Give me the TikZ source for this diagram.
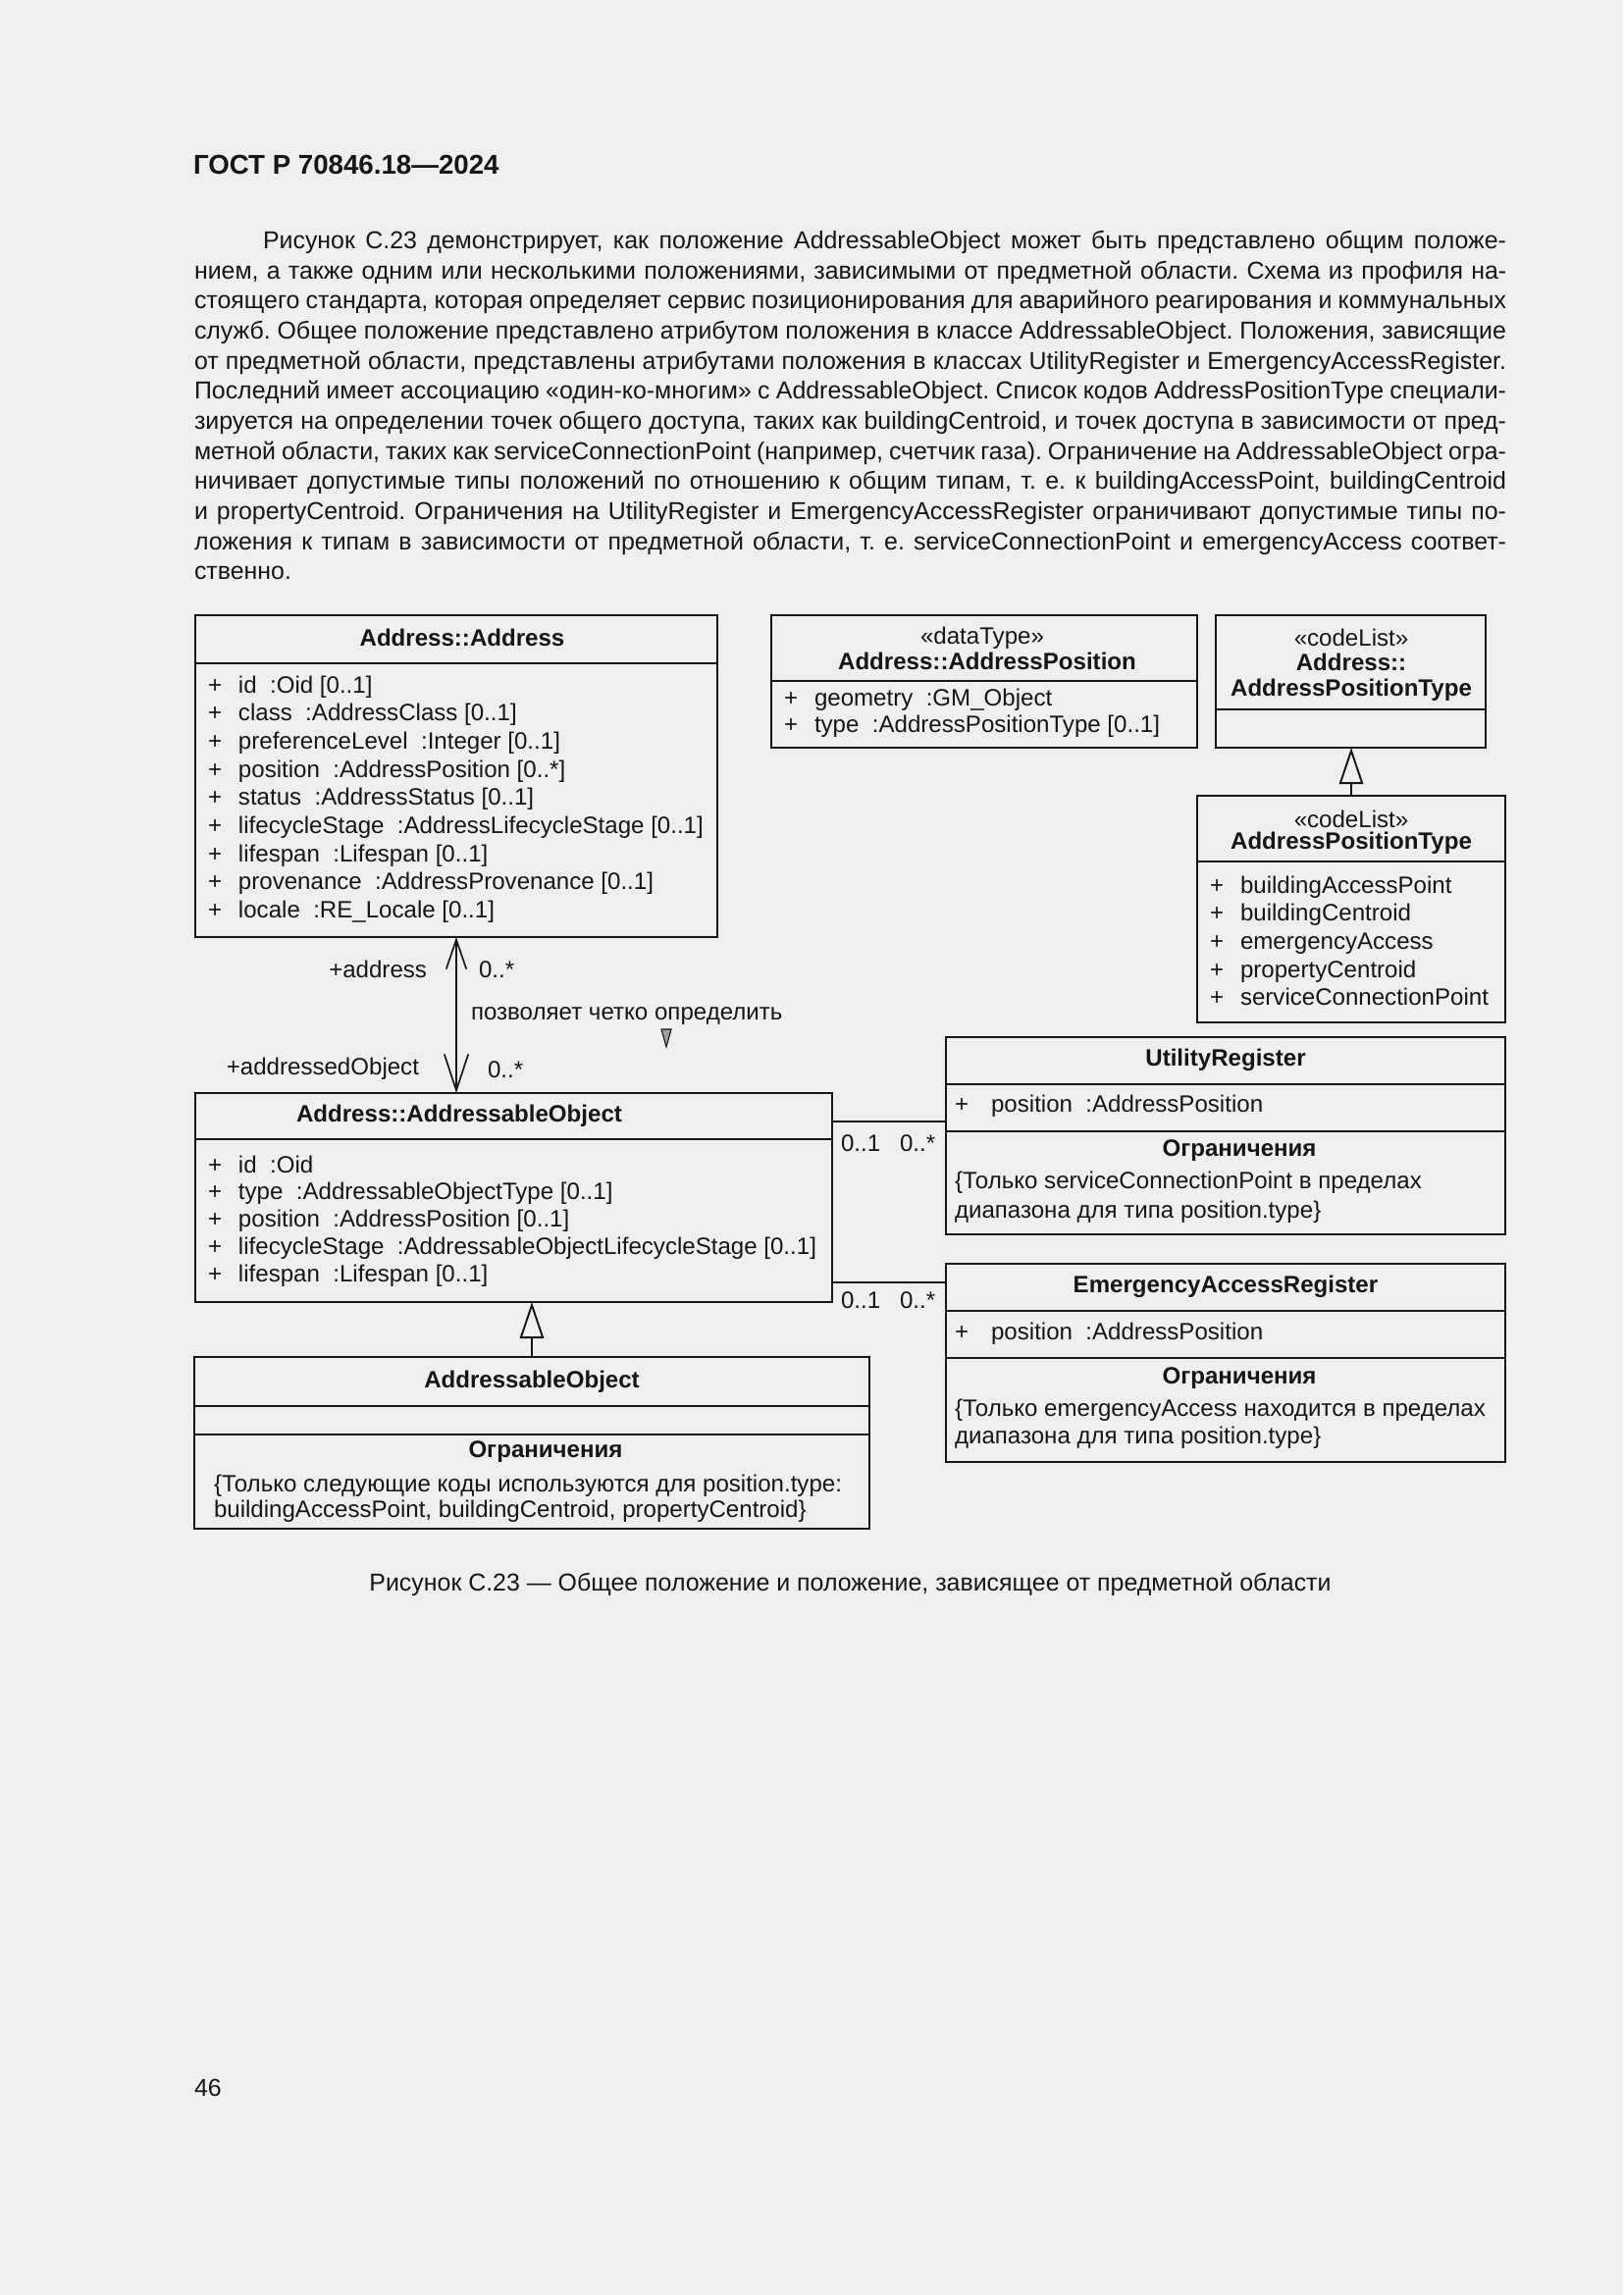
\documentclass[tikz,border=0pt]{standalone}
\usepackage{fontspec}
\setmainfont{Liberation Sans}
\usetikzlibrary{arrows.meta,fit}
\definecolor{bg}{RGB}{239,239,239}
\definecolor{ink}{RGB}{22,22,22}
\frenchspacing
\newcounter{tn}
\newcommand\Tx[4][]{\stepcounter{tn}\node[tx,anchor=base west,#1] (t\arabic{tn}) at (#2,#3) {#4};}
\newcommand\Tc[4][]{\stepcounter{tn}\node[tx,anchor=base,#1] (t\arabic{tn}) at (#2,#3) {#4};}
% \Attr[plus offset px][gap pt]{box left}{baseline}{text}
\newcommand\Attr[4][13]{\Tx{#2+#1}{#3}{\makebox[11.2pt][l]{+}#4}}
\newcommand\AttrW[3]{\Tx{#1+9}{#2}{\makebox[13.4pt][l]{+}#3}}
\newcommand\PL[4]{\stepcounter{tn}\node[ptx,anchor=base west] (t\arabic{tn}) at (#1,#2) {\makebox[#3][s]{#4}};}
\tikzset{
  tx/.style={inner sep=0pt, outer sep=0pt, text=ink, font=\fontsize{8.7}{10}\selectfont},
  ptx/.style={inner sep=0pt, outer sep=0pt, text=ink, font=\fontsize{9}{11}\selectfont},
  umlbox/.style={draw=ink, line width=0.8pt, inner sep=0pt, outer sep=0pt},
  sepline/.style={draw=ink, line width=0.8pt},
  conn/.style={draw=ink, line width=0.6pt},
  assoc/.style={draw=ink, line width=0.6pt,
     {Straight Barb[length=3.81mm,width=2.6mm,line width=0.6pt]}-{Straight Barb[length=4.7mm,width=3.1mm,line width=0.6pt]}},
  gen/.style={draw=ink, line width=0.7pt,
     -{Triangle[open,length=4.7mm,width=3.1mm,line width=0.7pt]}},
}
\begin{document}
\begin{tikzpicture}[x=0.12697mm,y=-0.12697mm]
\fill[bg] (0,0) rectangle (1654,2339);
\useasboundingbox (0,0) rectangle (1654,2339);

% header
\Tx[font=\fontsize{10}{12}\selectfont\bfseries]{197}{178}{ГОСТ Р 70846.18—2024}

% paragraph
\PL{268}{253.6}{457.7pt}{Рисунок С.23 демонстрирует, как положение AddressableObject может быть представлено общим положе-}
\PL{198}{284.3}{483.0pt}{нием, а также одним или несколькими положениями, зависимыми от предметной области. Схема из профиля на-}
\PL{198}{314.9}{483.0pt}{стоящего стандарта, которая определяет сервис позиционирования для аварийного реагирования и коммунальных}
\PL{198}{345.6}{483.0pt}{служб. Общее положение представлено атрибутом положения в классе AddressableObject. Положения, зависящие}
\PL{198}{376.2}{483.0pt}{от предметной области, представлены атрибутами положения в классах UtilityRegister и EmergencyAccessRegister.}
\PL{198}{406.9}{483.0pt}{Последний имеет ассоциацию «один-ко-многим» с AddressableObject. Список кодов AddressPositionType специали-}
\PL{198}{437.5}{483.0pt}{зируется на определении точек общего доступа, таких как buildingCentroid, и точек доступа в зависимости от пред-}
\PL{198}{468.2}{483.0pt}{метной области, таких как serviceConnectionPoint (например, счетчик газа). Ограничение на AddressableObject огра-}
\PL{198}{498.8}{483.0pt}{ничивает допустимые типы положений по отношению к общим типам, т. е. к buildingAccessPoint, buildingCentroid}
\PL{198}{529.5}{483.0pt}{и propertyCentroid. Ограничения на UtilityRegister и EmergencyAccessRegister ограничивают допустимые типы по-}
\PL{198}{560.1}{483.0pt}{ложения к типам в зависимости от предметной области, т. е. serviceConnectionPoint и emergencyAccess соответ-}
\Tx[font=\fontsize{9}{11}\selectfont]{198}{590.8}{ственно.}

% Address::Address
\node[umlbox, fit={(199,627)(731,955)}] (addr) {};
\draw[sepline] (addr.west |- 0,676) -- (addr.east |- 0,676);
\Tc{471}{658}{\bfseries Address::Address}
\Attr{199}{706}{id\ \ :Oid [0..1]}
\Attr{199}{734.7}{class\ \ :AddressClass [0..1]}
\Attr{199}{763.4}{preferenceLevel\ \ :Integer [0..1]}
\Attr{199}{792.1}{position\ \ :AddressPosition [0..*]}
\Attr{199}{820.8}{status\ \ :AddressStatus [0..1]}
\Attr{199}{849.5}{lifecycleStage\ \ :AddressLifecycleStage [0..1]}
\Attr{199}{878.2}{lifespan\ \ :Lifespan [0..1]}
\Attr{199}{906.9}{provenance\ \ :AddressProvenance [0..1]}
\Attr{199}{935.6}{locale\ \ :RE\_Locale [0..1]}

% Address::AddressPosition
\node[umlbox, fit={(786,627)(1220,762)}] (apos) {};
\draw[sepline] (apos.west |- 0,694) -- (apos.east |- 0,694);
\Tc{1001}{656}{«dataType»}
\Tc{1006}{682}{\bfseries Address::AddressPosition}
\Attr{786}{719}{geometry\ \ :GM\_Object}
\Attr{786}{746}{type\ \ :AddressPositionType [0..1]}

% Address::AddressPositionType
\node[umlbox, fit={(1239,627)(1514,762)}] (aapt) {};
\draw[sepline] (aapt.west |- 0,723) -- (aapt.east |- 0,723);
\Tc{1377}{658}{«codeList»}
\Tc{1377}{683}{\bfseries Address::}
\Tc{1377}{709}{\bfseries AddressPositionType}

% AddressPositionType
\node[umlbox, fit={(1220,811)(1534,1042)}] (apt) {};
\draw[sepline] (apt.west |- 0,878) -- (apt.east |- 0,878);
\Tc{1377}{843}{«codeList»}
\Tc{1377}{865}{\bfseries AddressPositionType}
\Attr{1220}{910}{buildingAccessPoint}
\Attr{1220}{938.7}{buildingCentroid}
\Attr{1220}{967.4}{emergencyAccess}
\Attr{1220}{996.1}{propertyCentroid}
\Attr{1220}{1024.8}{serviceConnectionPoint}
\draw[gen] (apt.north) -- (apt.north |- aapt.south);

% Address::AddressableObject
\node[umlbox, fit={(199,1114)(848,1327)}] (ao) {};
\draw[sepline] (ao.west |- 0,1161) -- (ao.east |- 0,1161);
\Tc{468}{1143}{\bfseries Address::AddressableObject}
\Attr{199}{1195}{id\ \ :Oid}
\Attr{199}{1222.8}{type\ \ :AddressableObjectType [0..1]}
\Attr{199}{1250.6}{position\ \ :AddressPosition [0..1]}
\Attr{199}{1278.4}{lifecycleStage\ \ :AddressableObjectLifecycleStage [0..1]}
\Attr{199}{1306.2}{lifespan\ \ :Lifespan [0..1]}

% association Address -- AddressableObject
\draw[assoc] (addr.south -| 465,0) -- (ao.north -| 465,0);
\Tx[anchor=base east]{435}{996}{+address}
\Tx{488}{996}{0..*}
\Tx{480}{1039}{позволяет четко определить}
\filldraw[fill=gray!75, draw=ink, line width=0.4pt] (674,1049) -- (684,1049) -- (679,1067) -- cycle;
\Tx[anchor=base east]{427}{1095}{+addressedObject}
\Tx{497}{1098}{0..*}

% UtilityRegister
\node[umlbox, fit={(964,1057)(1534,1258)}] (util) {};
\draw[sepline] (util.west |- 0,1105) -- (util.east |- 0,1105);
\draw[sepline] (util.west |- 0,1153) -- (util.east |- 0,1153);
\Tc{1249}{1086}{\bfseries UtilityRegister}
\AttrW{964}{1133}{position\ \ :AddressPosition}
\Tc{1263}{1178}{\bfseries Ограничения}
\Tx{973}{1211}{\{Только serviceConnectionPoint в пределах}
\Tx{973}{1241}{диапазона для типа position.type\}}

% EmergencyAccessRegister
\node[umlbox, fit={(964,1288)(1534,1490)}] (ear) {};
\draw[sepline] (ear.west |- 0,1336) -- (ear.east |- 0,1336);
\draw[sepline] (ear.west |- 0,1384) -- (ear.east |- 0,1384);
\Tc{1249}{1317}{\bfseries EmergencyAccessRegister}
\AttrW{964}{1365}{position\ \ :AddressPosition}
\Tc{1263}{1410}{\bfseries Ограничения}
\Tx{973}{1443}{\{Только emergencyAccess находится в пределах}
\Tx{973}{1471}{диапазона для типа position.type\}}

% connectors to registers
\draw[conn] (ao.east |- 0,1143) -- (util.west |- 0,1143);
\Tx{857}{1173}{0..1}
\Tx{917}{1173}{0..*}
\draw[conn, line width=0.8pt] (ao.east |- 0,1307) -- (ear.west |- 0,1307);
\Tx{857}{1333}{0..1}
\Tx{917}{1333}{0..*}

% AddressableObject (subclass)
\node[umlbox, fit={(198,1383)(886,1558)}] (sub) {};
\draw[sepline] (sub.west |- 0,1433) -- (sub.east |- 0,1433);
\draw[sepline] (sub.west |- 0,1462) -- (sub.east |- 0,1462);
\Tc{542}{1414}{\bfseries AddressableObject}
\Tc{556}{1485}{\bfseries Ограничения}
\Tx{218}{1520}{\{Только следующие коды используются для position.type:}
\Tx{218}{1546}{buildingAccessPoint, buildingCentroid, propertyCentroid\}}
\draw[gen] (sub.north) -- (sub.north |- ao.south);

% caption and page number
\Tc[font=\fontsize{9}{11}\selectfont]{866.5}{1621}{Рисунок С.23 — Общее положение и положение, зависящее от предметной области}
\Tx[font=\fontsize{9}{11}\selectfont]{198}{2136}{46}
\end{tikzpicture}
\end{document}
